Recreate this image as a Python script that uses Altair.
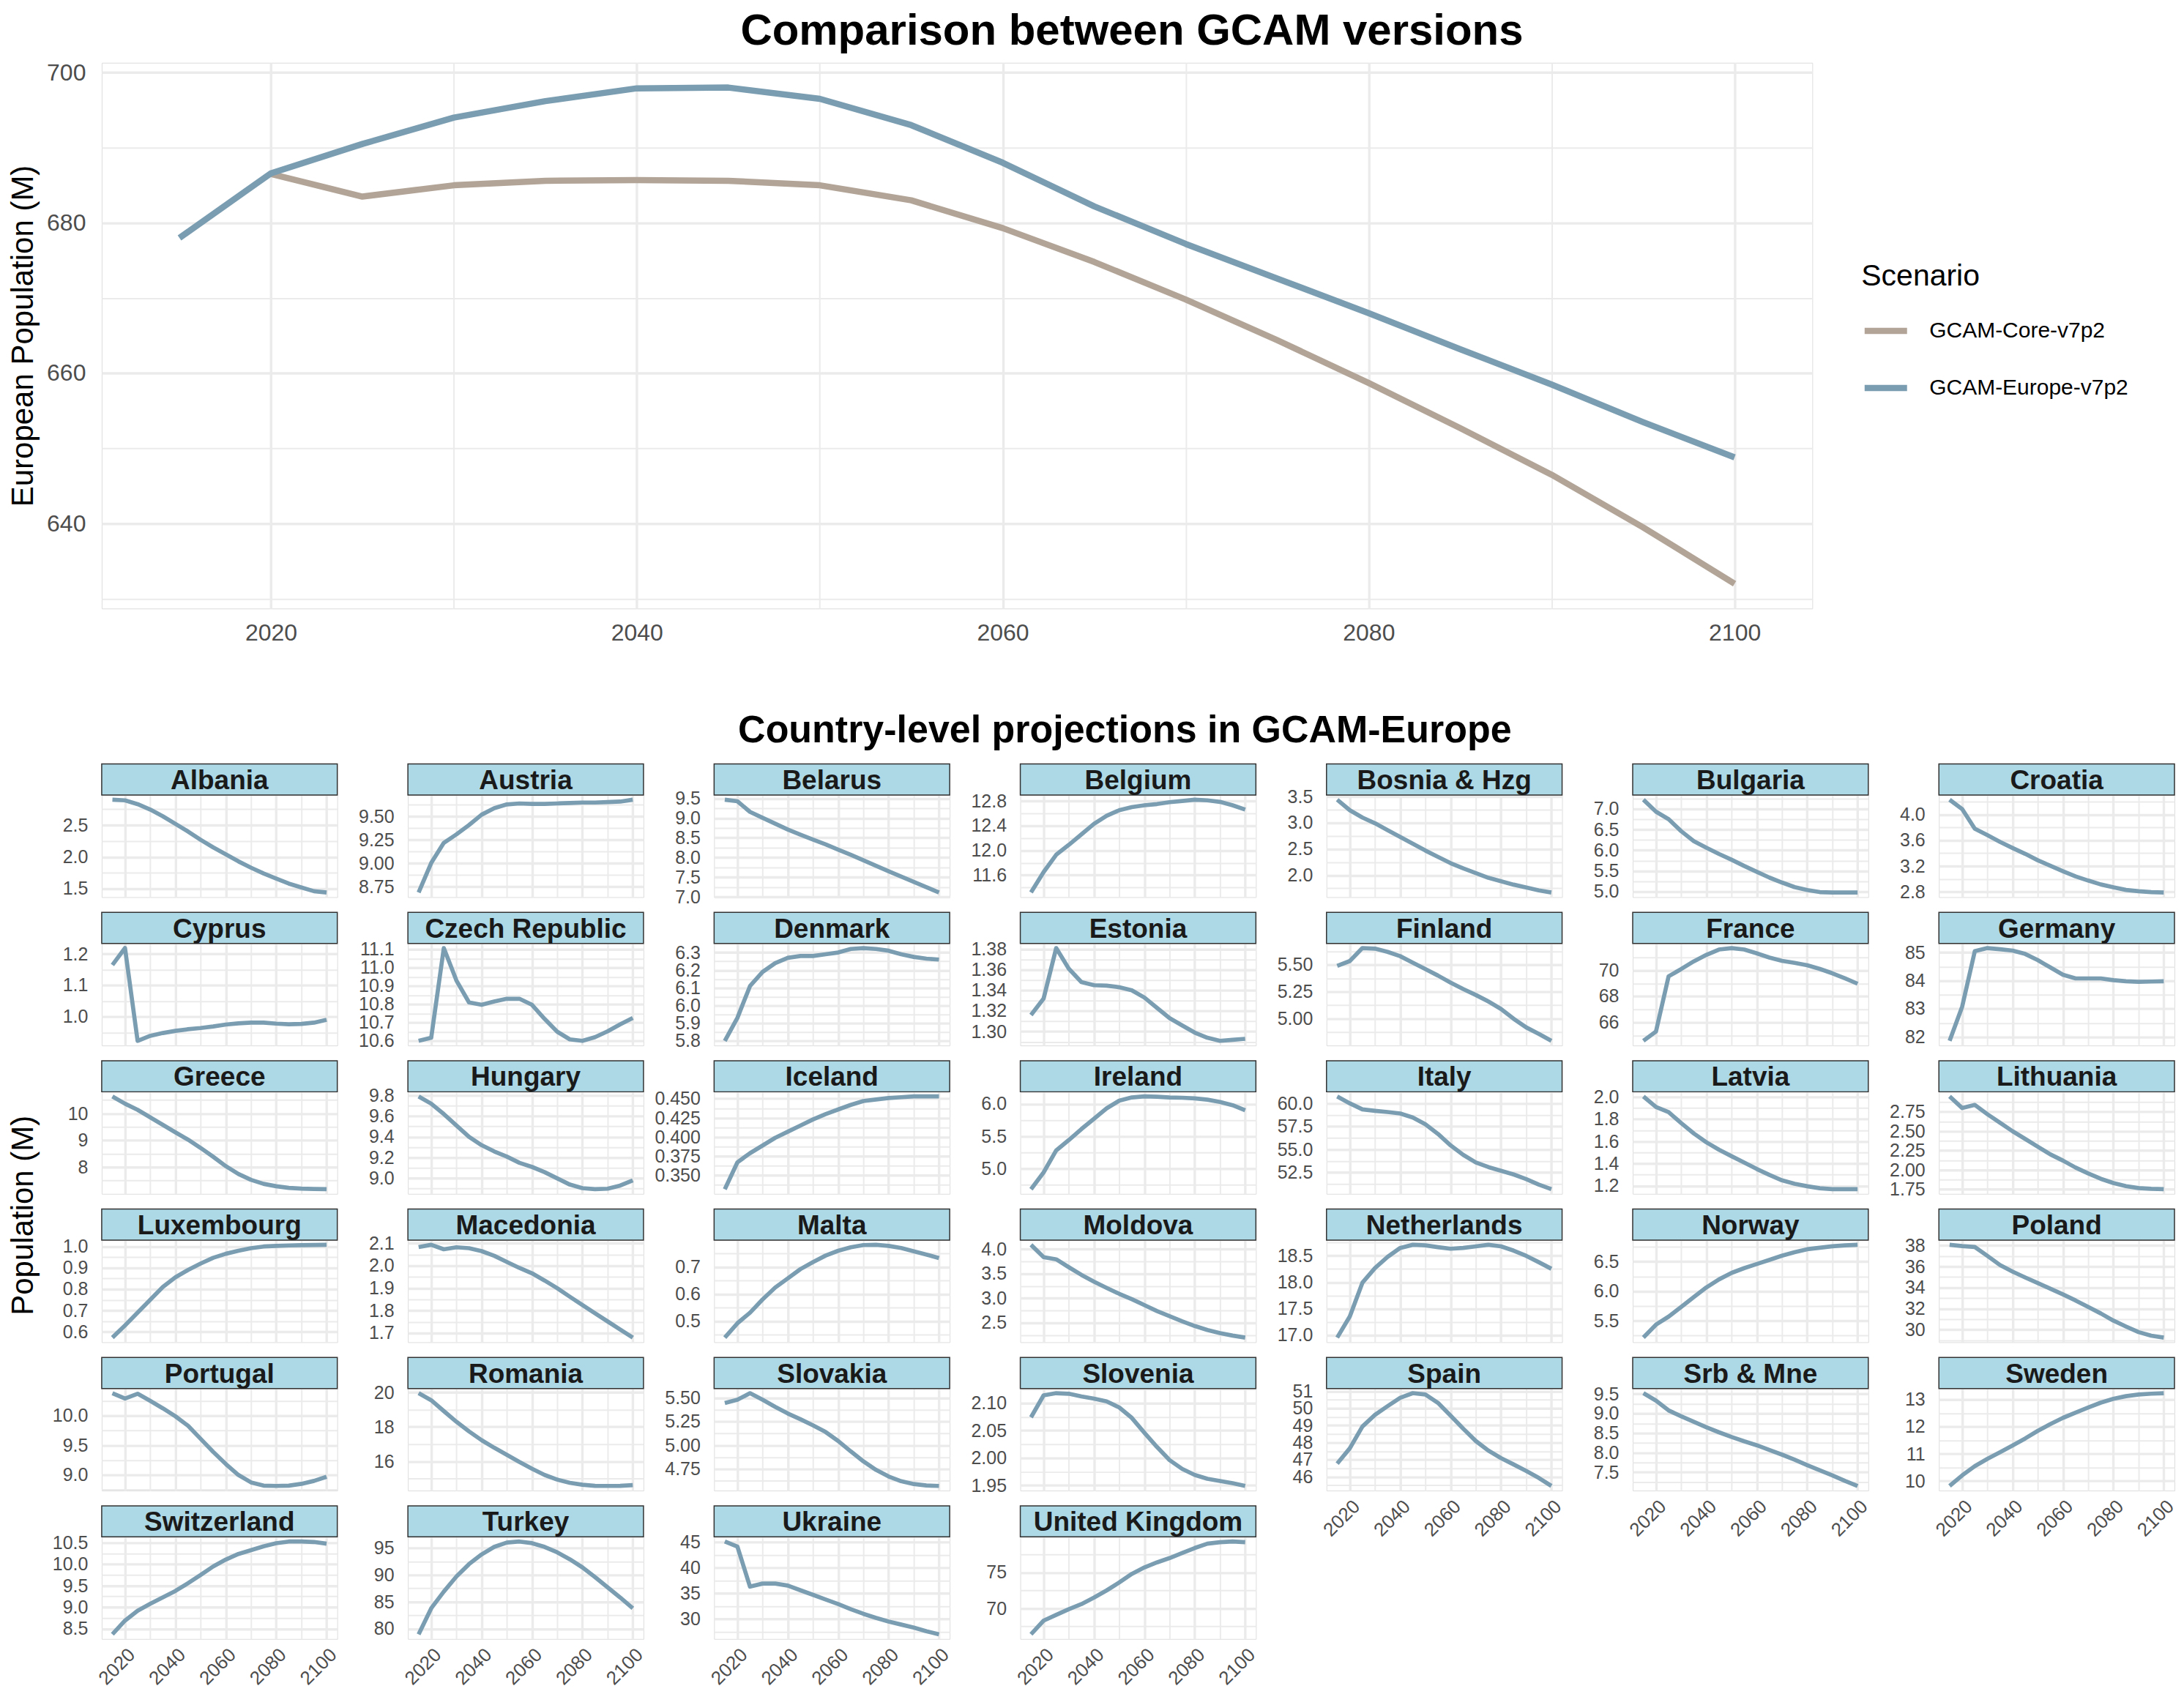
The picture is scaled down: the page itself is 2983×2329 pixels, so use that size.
import altair as alt
import pandas as pd

# ---------------- data ----------------
YEARS = [2015, 2020, 2025, 2030, 2035, 2040, 2045, 2050, 2055, 2060,
         2065, 2070, 2075, 2080, 2085, 2090, 2095, 2100]
SCENARIOS = ["GCAM-Core-v7p2", "GCAM-Europe-v7p2"]
CORE_YEARS = YEARS[1:]
CORE = [686.5, 683.5, 685.0, 685.6, 685.7, 685.6, 685.0, 683.0, 679.3,
        674.8, 669.8, 664.4, 658.7, 652.7, 646.5, 639.5, 632.0]
EUROPE = [678.0, 686.6, 690.5, 694.0, 696.2, 697.9, 698.0, 696.5, 693.0,
          688.0, 682.2, 677.2, 672.6, 668.0, 663.2, 658.5, 653.5, 648.8]
TOP_Y_TICKS = [640, 660, 680, 700]
X_TICKS = [2020, 2040, 2060, 2080, 2100]

ALBANIA = [2.90, 2.89, 2.83, 2.745, 2.64, 2.52, 2.40, 2.27, 2.15, 2.04, 1.93, 1.83, 1.74, 1.66, 1.58, 1.52, 1.46, 1.44]
AUSTRIA = [8.69, 9.005, 9.22, 9.31, 9.41, 9.52, 9.59, 9.63, 9.64, 9.635, 9.635, 9.64, 9.645, 9.65, 9.65, 9.655, 9.66, 9.68]
BELARUS = [9.47, 9.43, 9.16, 9.01, 8.86, 8.71, 8.58, 8.455, 8.335, 8.20, 8.07, 7.93, 7.79, 7.65, 7.515, 7.38, 7.245, 7.11]
BELGIUM = [11.32, 11.65, 11.93, 12.09, 12.26, 12.43, 12.56, 12.65, 12.70, 12.73, 12.75, 12.78, 12.80, 12.82, 12.81, 12.785, 12.73, 12.66]
BOSNIA = [3.44, 3.24, 3.10, 2.99, 2.86, 2.73, 2.60, 2.47, 2.35, 2.23, 2.13, 2.04, 1.95, 1.885, 1.82, 1.765, 1.71, 1.67]
BULGARIA = [7.22, 6.93, 6.75, 6.46, 6.22, 6.06, 5.91, 5.77, 5.62, 5.48, 5.34, 5.22, 5.11, 5.04, 4.99, 4.98, 4.98, 4.98]
CROATIA = [4.23, 4.083, 3.78, 3.68, 3.575, 3.48, 3.39, 3.29, 3.205, 3.12, 3.04, 2.975, 2.915, 2.87, 2.83, 2.81, 2.795, 2.79]
CYPRUS = [1.165, 1.219, 0.923, 0.939, 0.948, 0.955, 0.96, 0.964, 0.969, 0.975, 0.979, 0.981, 0.981, 0.978, 0.976, 0.977, 0.981, 0.99]
CZECH = [10.60, 10.617, 11.107, 10.93, 10.81, 10.797, 10.815, 10.83, 10.83, 10.797, 10.72, 10.65, 10.608, 10.60, 10.62, 10.652, 10.69, 10.725]
DENMARK = [5.80, 5.93, 6.11, 6.19, 6.24, 6.27, 6.28, 6.28, 6.29, 6.30, 6.32, 6.325, 6.32, 6.31, 6.29, 6.275, 6.265, 6.26]
ESTONIA = [1.316, 1.332, 1.381, 1.361, 1.348, 1.345, 1.3445, 1.343, 1.340, 1.333, 1.323, 1.313, 1.306, 1.299, 1.294, 1.291, 1.292, 1.293]
FINLAND = [5.49, 5.535, 5.655, 5.65, 5.62, 5.58, 5.52, 5.46, 5.40, 5.335, 5.275, 5.22, 5.16, 5.09, 5.00, 4.92, 4.86, 4.795]
FRANCE = [64.58, 65.3, 69.54, 70.1, 70.69, 71.19, 71.6, 71.71, 71.6, 71.3, 70.98, 70.73, 70.57, 70.39, 70.11, 69.77, 69.38, 68.97]
GERMANY = [81.86, 83.08, 85.05, 85.16, 85.12, 85.07, 84.95, 84.73, 84.47, 84.21, 84.08, 84.08, 84.08, 84.02, 83.98, 83.96, 83.97, 83.98]
GREECE = [10.64, 10.37, 10.14, 9.86, 9.58, 9.30, 9.03, 8.72, 8.39, 8.04, 7.75, 7.53, 7.38, 7.29, 7.23, 7.20, 7.19, 7.18]
HUNGARY = [9.79, 9.72, 9.62, 9.51, 9.40, 9.32, 9.26, 9.21, 9.15, 9.11, 9.06, 9.00, 8.94, 8.905, 8.895, 8.90, 8.93, 8.98]
ICELAND = [0.332, 0.367, 0.379, 0.389, 0.399, 0.407, 0.415, 0.423, 0.430, 0.436, 0.442, 0.447, 0.449, 0.451, 0.452, 0.453, 0.453, 0.453]
IRELAND = [4.68, 4.94, 5.28, 5.44, 5.61, 5.77, 5.93, 6.05, 6.10, 6.115, 6.11, 6.10, 6.095, 6.085, 6.065, 6.03, 5.98, 5.90]
ITALY = [60.75, 60.0, 59.35, 59.19, 59.06, 58.9, 58.47, 57.73, 56.69, 55.45, 54.42, 53.6, 53.1, 52.7, 52.3, 51.8, 51.2, 50.7]
LATVIA = [2.005, 1.91, 1.864, 1.765, 1.672, 1.592, 1.525, 1.467, 1.41, 1.352, 1.299, 1.25, 1.219, 1.197, 1.179, 1.17, 1.17, 1.17]
LITHUANIA = [2.95, 2.80, 2.84, 2.72, 2.61, 2.50, 2.40, 2.30, 2.20, 2.12, 2.03, 1.955, 1.885, 1.83, 1.79, 1.765, 1.755, 1.75]
LUXEMBOURG = [0.573, 0.63, 0.69, 0.75, 0.81, 0.856, 0.89, 0.92, 0.947, 0.966, 0.98, 0.992, 1.0, 1.003, 1.005, 1.006, 1.007, 1.008]
MACEDONIA = [2.083, 2.093, 2.073, 2.082, 2.078, 2.065, 2.044, 2.017, 1.99, 1.966, 1.934, 1.90, 1.862, 1.825, 1.788, 1.752, 1.716, 1.68]
MALTA = [0.439, 0.492, 0.531, 0.580, 0.624, 0.658, 0.692, 0.718, 0.742, 0.76, 0.773, 0.781, 0.782, 0.778, 0.77, 0.758, 0.746, 0.733]
MOLDOVA = [4.085, 3.835, 3.79, 3.63, 3.475, 3.335, 3.21, 3.09, 2.98, 2.86, 2.74, 2.635, 2.53, 2.435, 2.355, 2.29, 2.24, 2.20]
NETHERLANDS = [16.95, 17.35, 17.99, 18.27, 18.48, 18.65, 18.71, 18.70, 18.665, 18.635, 18.65, 18.68, 18.71, 18.68, 18.60, 18.50, 18.38, 18.255]
NORWAY = [5.216, 5.435, 5.57, 5.735, 5.90, 6.065, 6.20, 6.31, 6.39, 6.46, 6.53, 6.60, 6.66, 6.71, 6.735, 6.76, 6.775, 6.785]
POLAND = [38.06, 37.94, 37.85, 37.01, 36.14, 35.52, 34.96, 34.43, 33.9, 33.35, 32.78, 32.16, 31.55, 30.87, 30.31, 29.78, 29.44, 29.26]
PORTUGAL = [10.38, 10.29, 10.37, 10.25, 10.125, 9.99, 9.83, 9.61, 9.39, 9.185, 9.0, 8.875, 8.82, 8.815, 8.82, 8.85, 8.90, 8.97]
ROMANIA = [19.96, 19.55, 18.92, 18.30, 17.74, 17.23, 16.79, 16.38, 15.96, 15.57, 15.21, 14.94, 14.75, 14.64, 14.58, 14.57, 14.58, 14.62]
SLOVAKIA = [5.445, 5.48, 5.55, 5.48, 5.405, 5.335, 5.275, 5.21, 5.14, 5.045, 4.935, 4.83, 4.74, 4.67, 4.62, 4.59, 4.575, 4.57]
SLOVENIA = [2.074, 2.114, 2.118, 2.117, 2.112, 2.108, 2.103, 2.092, 2.073, 2.046, 2.02, 1.996, 1.980, 1.969, 1.962, 1.958, 1.954, 1.949]
SPAIN = [46.77, 47.66, 48.94, 49.62, 50.13, 50.62, 50.89, 50.81, 50.32, 49.57, 48.81, 48.09, 47.53, 47.09, 46.72, 46.34, 45.93, 45.46]
SERBIA_MONTENEGRO = [9.52, 9.33, 9.08, 8.93, 8.79, 8.65, 8.52, 8.40, 8.29, 8.19, 8.07, 7.95, 7.82, 7.68, 7.55, 7.42, 7.28, 7.15]
SWEDEN = [9.82, 10.21, 10.55, 10.82, 11.06, 11.31, 11.57, 11.85, 12.10, 12.33, 12.52, 12.71, 12.89, 13.03, 13.13, 13.19, 13.22, 13.24]
SWITZERLAND = [8.37, 8.69, 8.92, 9.08, 9.23, 9.38, 9.56, 9.75, 9.95, 10.11, 10.24, 10.33, 10.42, 10.49, 10.53, 10.53, 10.52, 10.48]
TURKEY = [78.97, 83.8, 86.9, 89.7, 92.0, 93.8, 95.2, 96.0, 96.2, 95.9, 95.2, 94.2, 92.9, 91.4, 89.6, 87.7, 85.8, 83.8]
UKRAINE = [45.1, 44.1, 36.3, 36.9, 36.9, 36.5, 35.6, 34.7, 33.8, 32.9, 31.9, 31.0, 30.2, 29.5, 28.9, 28.3, 27.6, 27.0]
UK = [66.4, 68.3, 69.1, 69.9, 70.6, 71.5, 72.5, 73.6, 74.8, 75.7, 76.4, 77.0, 77.7, 78.4, 79.0, 79.2, 79.3, 79.2]

# (name, values, major y tick labels, label format)
PANELS = [
    ("Albania", ALBANIA, [1.5, 2.0, 2.5], ".1f"),
    ("Austria", AUSTRIA, [8.75, 9.0, 9.25, 9.5], ".2f"),
    ("Belarus", BELARUS, [7.0, 7.5, 8.0, 8.5, 9.0, 9.5], ".1f"),
    ("Belgium", BELGIUM, [11.6, 12.0, 12.4, 12.8], ".1f"),
    ("Bosnia & Hzg", BOSNIA, [2.0, 2.5, 3.0, 3.5], ".1f"),
    ("Bulgaria", BULGARIA, [5.0, 5.5, 6.0, 6.5, 7.0], ".1f"),
    ("Croatia", CROATIA, [2.8, 3.2, 3.6, 4.0], ".1f"),
    ("Cyprus", CYPRUS, [1.0, 1.1, 1.2], ".1f"),
    ("Czech Republic", CZECH, [10.6, 10.7, 10.8, 10.9, 11.0, 11.1], ".1f"),
    ("Denmark", DENMARK, [5.8, 5.9, 6.0, 6.1, 6.2, 6.3], ".1f"),
    ("Estonia", ESTONIA, [1.30, 1.32, 1.34, 1.36, 1.38], ".2f"),
    ("Finland", FINLAND, [5.0, 5.25, 5.5], ".2f"),
    ("France", FRANCE, [66, 68, 70], "d"),
    ("Germany", GERMANY, [82, 83, 84, 85], "d"),
    ("Greece", GREECE, [7, 8, 9, 10], "d"),
    ("Hungary", HUNGARY, [9.0, 9.2, 9.4, 9.6, 9.8], ".1f"),
    ("Iceland", ICELAND, [0.325, 0.35, 0.375, 0.4, 0.425, 0.45], ".3f"),
    ("Ireland", IRELAND, [5.0, 5.5, 6.0], ".1f"),
    ("Italy", ITALY, [50.0, 52.5, 55.0, 57.5, 60.0], ".1f"),
    ("Latvia", LATVIA, [1.2, 1.4, 1.6, 1.8, 2.0], ".1f"),
    ("Lithuania", LITHUANIA, [1.75, 2.0, 2.25, 2.5, 2.75], ".2f"),
    ("Luxembourg", LUXEMBOURG, [0.6, 0.7, 0.8, 0.9, 1.0], ".1f"),
    ("Macedonia", MACEDONIA, [1.7, 1.8, 1.9, 2.0, 2.1], ".1f"),
    ("Malta", MALTA, [0.5, 0.6, 0.7], ".1f"),
    ("Moldova", MOLDOVA, [2.5, 3.0, 3.5, 4.0], ".1f"),
    ("Netherlands", NETHERLANDS, [17.0, 17.5, 18.0, 18.5], ".1f"),
    ("Norway", NORWAY, [5.5, 6.0, 6.5], ".1f"),
    ("Poland", POLAND, [30, 32, 34, 36, 38], "d"),
    ("Portugal", PORTUGAL, [9.0, 9.5, 10.0], ".1f"),
    ("Romania", ROMANIA, [16, 18, 20], "d"),
    ("Slovakia", SLOVAKIA, [4.75, 5.0, 5.25, 5.5], ".2f"),
    ("Slovenia", SLOVENIA, [1.95, 2.0, 2.05, 2.1], ".2f"),
    ("Spain", SPAIN, [46, 47, 48, 49, 50, 51], "d"),
    ("Srb & Mne", SERBIA_MONTENEGRO, [7.5, 8.0, 8.5, 9.0, 9.5], ".1f"),
    ("Sweden", SWEDEN, [10, 11, 12, 13], "d"),
    ("Switzerland", SWITZERLAND, [8.5, 9.0, 9.5, 10.0, 10.5], ".1f"),
    ("Turkey", TURKEY, [80, 85, 90, 95], "d"),
    ("Ukraine", UKRAINE, [30, 35, 40, 45], "d"),
    ("United Kingdom", UK, [70, 75], "d"),
]

# ---------------- style / layout ----------------
FONT = "Liberation Sans"
GRID = "#EBEBEB"
LABEL = "#4D4D4D"
C_CORE = "#B2A497"
C_EUR = "#7A9DB1"
STRIP_FILL = "#ADD8E6"
STRIP_STROKE = "#333333"
MAJ_W, MIN_W = 3.4, 2.0

TOP_W, TOP_H = 2338, 746
PW, PH = 322, 139.5
STRIP_H = 42.5
COL_GAP, ROW_GAP = 96.5, 62.8
NCOL = 7
X_DOMAIN = [2010.75, 2104.25]
X_GRID = [2020, 2030, 2040, 2050, 2060, 2070, 2080, 2090, 2100]
X_TEST = "datum.value % 20 == 0"


def padded(vals):
    lo, hi = min(vals), max(vals)
    p = 0.05 * (hi - lo)
    return [lo - p, hi + p]


# ---------------- top chart ----------------
top_df = pd.DataFrame({
    "year": CORE_YEARS + YEARS,
    "pop": CORE + EUROPE,
    "scenario": [SCENARIOS[0]] * len(CORE) + [SCENARIOS[1]] * len(EUROPE),
})
top_dom = padded(CORE + EUROPE)
top_step = TOP_Y_TICKS[1] - TOP_Y_TICKS[0]
top_grid = sorted(set(TOP_Y_TICKS + [t - top_step / 2 for t in TOP_Y_TICKS] + [TOP_Y_TICKS[-1] + top_step / 2]))
top_grid = [v for v in top_grid if top_dom[0] <= v <= top_dom[1]]
top_test = f"datum.value % {top_step} == 0"

top = alt.Chart(top_df).mark_line(strokeWidth=8.5, strokeJoin="round").encode(
    x=alt.X("year:Q", scale=alt.Scale(domain=X_DOMAIN, nice=False, zero=False),
            axis=alt.Axis(title=None, values=X_GRID, format="d",
                          labelExpr=f"{X_TEST} ? datum.label : ''",
                          grid=True, gridColor=GRID,
                          gridWidth={"condition": {"test": X_TEST, "value": MAJ_W}, "value": MIN_W},
                          domain=False, ticks=False, tickSize=0, labelFlush=False,
                          labelFont=FONT, labelFontSize=32, labelColor=LABEL, labelPadding=18)),
    y=alt.Y("pop:Q", scale=alt.Scale(domain=top_dom, nice=False, zero=False),
            axis=alt.Axis(title="European Population (M)", values=top_grid, format="d",
                          labelExpr=f"{top_test} ? datum.label : ''",
                          grid=True, gridColor=GRID,
                          gridWidth={"condition": {"test": top_test, "value": MAJ_W}, "value": MIN_W},
                          domain=False, ticks=False, tickSize=0, labelOverlap=False,
                          labelFont=FONT, labelFontSize=32, labelColor=LABEL, labelPadding=22,
                          titleFont=FONT, titleFontSize=42, titleFontWeight="normal", titleColor="black",
                          titleX=-127, titleBaseline="top", titleAlign="center")),
    color=alt.Color("scenario:N", scale=alt.Scale(domain=SCENARIOS, range=[C_CORE, C_EUR]),
                    legend=alt.Legend(title="Scenario", orient="none", legendX=2405, legendY=272,
                                      titleFont=FONT, titleFontSize=41, titleFontWeight="normal",
                                      titleColor="black", titlePadding=20,
                                      labelFont=FONT, labelFontSize=30, labelColor="black",
                                      labelLimit=600, labelOffset=26, symbolType="stroke",
                                      symbolSize=3364, symbolStrokeWidth=8.5, rowPadding=27)),
).properties(
    width=TOP_W, height=TOP_H,
    title=alt.TitleParams(text="Comparison between GCAM versions", font=FONT, fontSize=60,
                          fontWeight="bold", color="black", anchor="middle", frame="group",
                          dx=239, offset=9),
)


# ---------------- country panels ----------------
def panel(i, name, vals, majors, fmt):
    c = i % NCOL
    last_in_col = max(k for k in range(len(PANELS)) if k % NCOL == c)
    bottom = (i == last_in_col)
    dom = padded(vals)
    step = round(majors[1] - majors[0], 6)
    gvals = majors + [m + step / 2 for m in majors] + [majors[0] - step / 2]
    gvals = sorted(v for v in set(round(g, 6) for g in gvals) if dom[0] <= v <= dom[1])
    test = f"abs(datum.value / {step} - round(datum.value / {step})) < 0.01"
    yaxis = dict(values=gvals, labelExpr=f"{test} ? format(datum.value, '{fmt}') : ''",
                 grid=True, gridColor=GRID,
                 gridWidth={"condition": {"test": test, "value": MAJ_W}, "value": MIN_W},
                 domain=False, ticks=False, tickSize=0, labelOverlap=False,
                 labelFont=FONT, labelFontSize=25, labelColor=LABEL, labelPadding=19)
    if name == "Greece":
        yaxis.update(title="Population (M)", titleFont=FONT, titleFontSize=42,
                     titleFontWeight="normal", titleColor="black", titleX=-127,
                     titleY=168.5, titleBaseline="top", titleAlign="center", titleAngle=270)
    else:
        yaxis.update(title=None)
    xaxis = dict(title=None, values=X_GRID, format="d", grid=True, gridColor=GRID,
                 gridWidth={"condition": {"test": X_TEST, "value": MAJ_W}, "value": MIN_W},
                 domain=False, ticks=False, tickSize=0)
    if bottom:
        xaxis.update(labelExpr=f"{X_TEST} ? datum.label : ''", labelAngle=-45,
                     labelAlign="right", labelBaseline="top", labelFlush=False,
                     labelOverlap=False, labelFont=FONT, labelFontSize=26,
                     labelColor=LABEL, labelPadding=8)
    else:
        xaxis.update(labels=False)

    df = pd.DataFrame({"year": YEARS, "pop": vals})
    line = alt.Chart(df).mark_line(color=C_EUR, strokeWidth=5.7, strokeJoin="round").encode(
        x=alt.X("year:Q", scale=alt.Scale(domain=X_DOMAIN, nice=False, zero=False),
                axis=alt.Axis(**xaxis)),
        y=alt.Y("pop:Q", scale=alt.Scale(domain=dom, nice=False, zero=False),
                axis=alt.Axis(**yaxis)),
    )
    sdf = pd.DataFrame({"country": [name]})
    rect = alt.Chart(sdf).mark_rect(fill=STRIP_FILL, stroke=STRIP_STROKE, strokeWidth=1.5).encode(
        x=alt.value(0), x2=alt.value(PW), y=alt.value(-STRIP_H), y2=alt.value(0))
    text = alt.Chart(sdf).mark_text(font=FONT, fontSize=37, fontWeight="bold", color="#1A1A1A",
                                    baseline="alphabetic", align="center").encode(
        x=alt.value(PW / 2), y=alt.value(-STRIP_H / 2 + 13.2), text="country:N")
    return alt.layer(line, rect, text).properties(width=PW, height=PH)


panels = [panel(i, *p) for i, p in enumerate(PANELS)]

grid = alt.concat(*panels, columns=NCOL, spacing={"row": ROW_GAP, "column": COL_GAP},
                  bounds="flush").properties(
    title=alt.TitleParams(text="Country-level projections in GCAM-Europe", font=FONT,
                          fontSize=52, fontWeight="bold", color="black", anchor="middle",
                          dx=44, offset=17))

chart = alt.vconcat(top, grid, spacing=91).properties(
    padding={"left": 2, "top": 3, "right": 0, "bottom": 0}
).configure_view(strokeWidth=0).configure(font=FONT)

chart.save("out.html", embed_options={"renderer": "svg", "actions": False})
